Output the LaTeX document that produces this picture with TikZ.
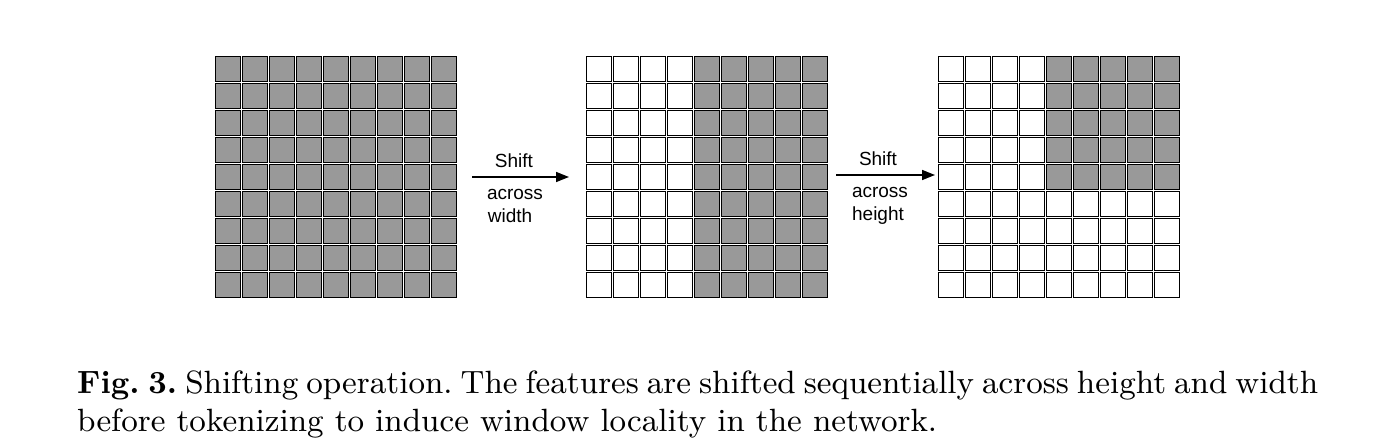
\documentclass[tikz,border=0pt]{standalone}
\usepackage{fontspec}
\newfontfamily\arialfont{Liberation Sans}
\newfontfamily\capfont{lmroman9-regular.otf}[BoldFont=lmroman10-bold.otf]
\usetikzlibrary{arrows.meta}
\definecolor{cellgray}{RGB}{153,153,153}
\frenchspacing
\tikzset{
  cell/.style={draw=black, line width=1.4pt, minimum width=25pt, minimum height=25pt, inner sep=0pt, anchor=north west},
  filled/.style={fill=cellgray},
  empty/.style={fill=white},
  shiftarrow/.style={draw=black, line width=1.5pt, -{Triangle[length=13pt,width=10pt]}},
  lbl/.style={font=\arialfont\fontsize{19}{22}\selectfont, inner sep=0pt, anchor=base},
  captxt/.style={font=\capfont\fontsize{32.2}{38}\selectfont, inner sep=0pt, anchor=base west}
}
\begin{document}
\begin{tikzpicture}[x=1pt,y=-1pt]
\useasboundingbox (0,0) rectangle (1375,446);
% grid 1: all gray
\foreach \i in {0,...,8}{
  \foreach \j in {0,...,8}{
    \node[cell,filled] (a-\i-\j) at ({215+27*\i},{56+27*\j}) {};
  }
}
% grid 2: columns 4..8 gray
\foreach \i in {0,...,8}{
  \foreach \j in {0,...,8}{
    \pgfmathtruncatemacro{\g}{\i>3 ? 1 : 0}
    \ifnum\g=1
      \node[cell,filled] (b-\i-\j) at ({586+27*\i},{56+27*\j}) {};
    \else
      \node[cell,empty] (b-\i-\j) at ({586+27*\i},{56+27*\j}) {};
    \fi
  }
}
% grid 3: columns 4..8, rows 0..4 gray
\foreach \i in {0,...,8}{
  \foreach \j in {0,...,8}{
    \pgfmathtruncatemacro{\g}{(\i>3 && \j<5) ? 1 : 0}
    \ifnum\g=1
      \node[cell,filled] (c-\i-\j) at ({938+27*\i},{56+27*\j}) {};
    \else
      \node[cell,empty] (c-\i-\j) at ({938+27*\i},{56+27*\j}) {};
    \fi
  }
}
% arrows
\coordinate (a1s) at (472,177);
\coordinate (a1e) at (569,177);
\coordinate (a2s) at (836,175);
\coordinate (a2e) at (935,175);
\draw[shiftarrow] (a1s) -- (a1e);
\draw[shiftarrow] (a2s) -- (a2e);
\node[lbl] (l1a) at (514,168) {Shift};
\node[lbl] (l1b) at (515,200) {across};
\node[lbl] (l1c) at (510,223) {width};
\node[lbl] (l2a) at (878,166) {Shift};
\node[lbl] (l2b) at (880,198) {across};
\node[lbl] (l2c) at (878,221) {height};
% caption
\node[captxt] (cap1) at (77,393) {\makebox[1241pt][s]{\textbf{Fig.\ 3.} Shifting operation. The features are shifted sequentially across height and width}};
\node[captxt] (cap2) at (77,431) {before tokenizing to induce window locality in the network.};
\end{tikzpicture}
\end{document}
